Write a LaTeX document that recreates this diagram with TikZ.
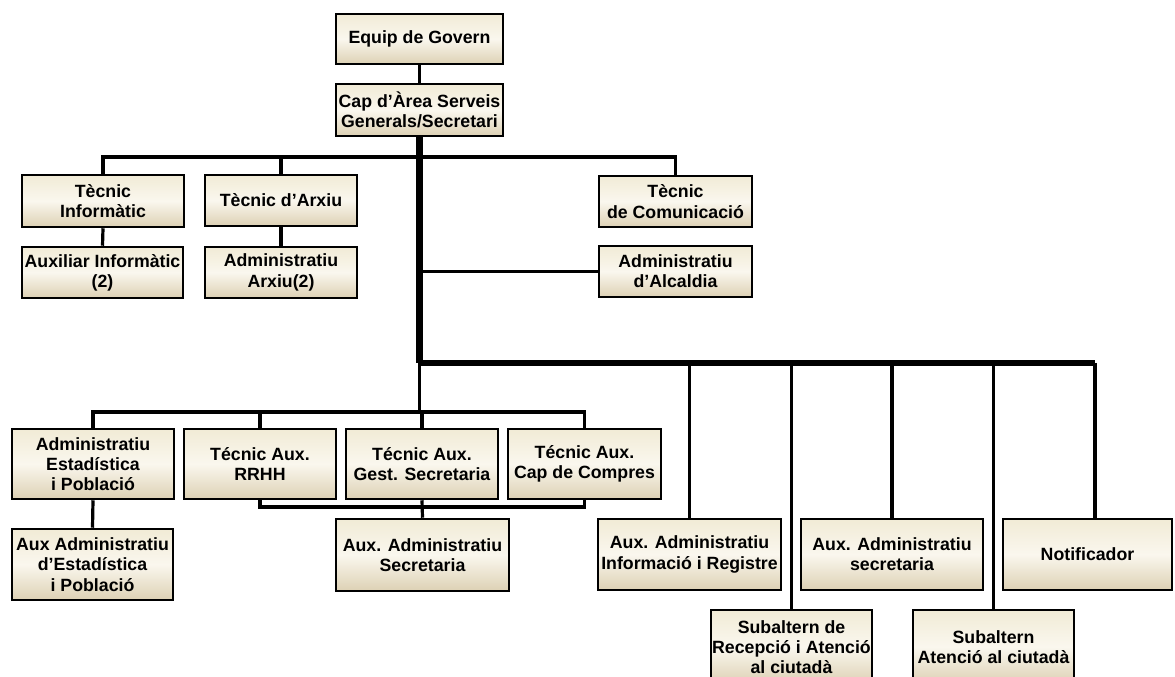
\documentclass[tikz,border=0pt]{standalone}
\usepackage{fontspec}
\setmainfont{Liberation Sans}
\definecolor{btop}{HTML}{F1EBD6}
\definecolor{bmid}{HTML}{FAF7EE}
\definecolor{bbot}{HTML}{DDD1B4}
\begin{document}
\begin{tikzpicture}[x=0.75pt,y=-0.75pt,
  box/.style n args={2}{draw=black, line width=1.9pt, top color=btop, bottom color=bbot, middle color=bmid,
    minimum width=#1*0.75pt, minimum height=#2*0.75pt, inner sep=0pt, align=center,
    font=\fontsize{13.3}{15.2}\selectfont\bfseries},
  conn/.style={line width=2.4pt},
  trunk/.style={line width=4.6pt},
  wide/.style={line width=3.8pt}]
\clip (0,0) rectangle (1175,677);
\fill[white] (0,0) rectangle (1175,677);
% nodes
\node[box={167}{50}] (gov) at (419.5,39) {Equip de Govern};
\node[box={167}{52}] (cap) at (419.5,110) {Cap d’Àrea Serveis\\Generals/Secretari};
\node[box={162}{52}] (tinf) at (103,201) {Tècnic\\Informàtic};
\node[box={152}{51}] (tarx) at (281,200.5) {Tècnic d’Arxiu};
\node[box={153}{51}] (tcom) at (675.5,201.5) {Tècnic\\de Comunicació};
\node[box={161}{51}] (auxinf) at (102.5,272.5) {Auxiliar Informàtic\\(2)};
\node[box={152}{51}] (admarx) at (281,272.5) {Administratiu\\Arxiu(2)};
\node[box={153}{51}] (admalc) at (675.5,271.5) {Administratiu\\d’Alcaldia};
\node[box={162}{70}] (admest) at (93,464) {Administratiu\\Estadística\\i Població};
\node[box={152}{70}] (rrhh) at (260,464) {Técnic Aux.\\RRHH};
\node[box={152}{70}] (gest) at (422,464) {Técnic Aux.\\Gest. Secretaria};
\node[box={153}{70}] (compres) at (584.5,464) {Técnic Aux.\\Cap de Compres};
\node[box={173}{72}] (auxsec) at (422.5,555) {Aux. Administratiu\\Secretaria};
\node[box={161}{71}] (auxest) at (92.5,564.5) {Aux Administratiu\\d’Estadística\\i Població};
\node[box={183}{71}] (auxinfo) at (689.5,554.5) {Aux. Administratiu\\Informació i Registre};
\node[box={182}{71}] (auxsecr) at (892,554.5) {Aux. Administratiu\\secretaria};
\node[box={169}{71}] (notif) at (1087.5,554.5) {Notificador};
\node[box={161}{74}] (subrec) at (791.5,647) {Subaltern de\\Recepció i Atenció\\al ciutadà};
\node[box={161}{74}] (subat) at (993.5,647) {Subaltern\\Atenció al ciutadà};
% helper levels
\coordinate (h1) at (0,157);
\coordinate (h2) at (0,363);
\coordinate (h3) at (0,412);
\coordinate (h4) at (0,507);
\coordinate (nc) at (1095,363);
% connectors
\draw[conn] (gov.south) -- (cap.north);
\draw[trunk] (cap.south) -- (cap.south |- h2);
\draw[conn] (tinf.north) -- (tinf.north |- h1) -- (tcom.north |- h1) -- (tcom.north);
\draw[conn] (tarx.north) -- (tarx.north |- h1);
\draw[conn] (tinf.south) -- (auxinf.north);
\draw[conn] (tarx.south) -- (admarx.north);
\draw[conn] (admalc.west) -- (admalc.west -| cap.south);
\draw[wide] (cap.south |- h2) -- (nc);
\draw[conn] (cap.south |- h2) -- (cap.south |- h3);
\draw[conn] (admest.north) -- (admest.north |- h3) -- (compres.north |- h3) -- (compres.north);
\draw[conn] (rrhh.north) -- (rrhh.north |- h3);
\draw[conn] (gest.north) -- (gest.north |- h3);
\draw[conn] (rrhh.south) -- (rrhh.south |- h4) -- (compres.south |- h4) -- (compres.south);
\draw[conn] (gest.south) -- (auxsec.north);
\draw[conn] (admest.south) -- (auxest.north);
\foreach \n in {auxinfo,subrec,auxsecr,subat}
  \draw[conn] (\n.north |- h2) -- (\n.north);
\draw[conn] (nc) -- (notif.north -| nc);
\end{tikzpicture}
\end{document}
